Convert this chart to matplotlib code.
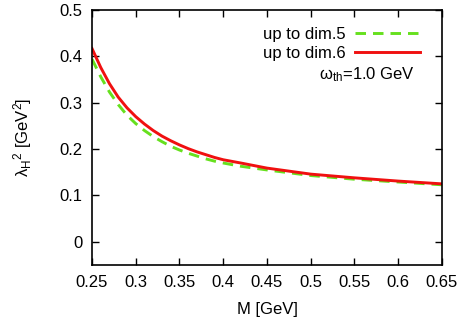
import matplotlib
matplotlib.use('Agg')
import matplotlib.pyplot as plt

plt.rcParams['font.family'] = ['Liberation Sans', 'DejaVu Sans']
plt.rcParams['mathtext.fontset'] = 'custom'
plt.rcParams['mathtext.rm'] = 'Liberation Sans'
plt.rcParams['mathtext.it'] = 'Liberation Sans:italic'

# values
mass = [0.25, 0.26, 0.27, 0.28, 0.29, 0.30, 0.31, 0.32, 0.33, 0.34, 0.35,
        0.36, 0.37, 0.38, 0.39, 0.40, 0.42, 0.45, 0.50, 0.55, 0.60, 0.65]
dim5 = [0.394, 0.356, 0.323, 0.296, 0.273, 0.255, 0.240, 0.227, 0.216, 0.206,
        0.198, 0.191, 0.185, 0.179, 0.174, 0.170, 0.163, 0.155, 0.143, 0.135,
        0.129, 0.123]
dim6 = [0.417, 0.376, 0.341, 0.312, 0.289, 0.270, 0.254, 0.240, 0.228, 0.218,
        0.209, 0.201, 0.194, 0.188, 0.182, 0.177, 0.170, 0.159, 0.146, 0.138,
        0.131, 0.125]
xticks = [0.25, 0.3, 0.35, 0.4, 0.45, 0.5, 0.55, 0.6, 0.65]
xticklabels = ['0.25', '0.3', '0.35', '0.4', '0.45', '0.5', '0.55', '0.6', '0.65']
yticks = [0, 0.1, 0.2, 0.3, 0.4, 0.5]
yticklabels = ['0', '0.1', '0.2', '0.3', '0.4', '0.5']

fig = plt.figure(figsize=(4.63, 3.27), dpi=100)
ax = fig.add_axes([0.1987, 0.1896, 0.7559, 0.7798])

ax.plot(mass, dim5, color='#66e01e', lw=2.1, dashes=(3.6, 2.4), label='up to dim.5')
ax.plot(mass, dim6, color='#f01010', lw=2.1, label='up to dim.6')

ax.set_xlim(0.25, 0.65)
ax.set_ylim(-0.05, 0.5)
ax.set_xticks(xticks)
ax.set_xticklabels(xticklabels)
ax.set_yticks(yticks)
ax.set_yticklabels(yticklabels)
ax.tick_params(direction='in', length=5, width=1, labelsize=12,
               top=True, right=True, pad=7)
for s in ax.spines.values():
    s.set_linewidth(1.2)

ax.set_xlabel('M [GeV]', fontsize=12, labelpad=9)
ax.set_ylabel('λ$_{\\rm H}{}^{2}$ [GeV$^{2}$]', fontsize=12, labelpad=18)

leg = ax.legend(loc='upper right', bbox_to_anchor=(0.936, 0.935), markerfirst=False,
                frameon=False, fontsize=12, handlelength=3.85, handletextpad=0.6,
                labelspacing=0.28, borderaxespad=0, borderpad=0)
ax.text(0.923, 0.745, 'ω$_{\\rm th}$=1.0 GeV', transform=ax.transAxes,
        ha='right', va='center', fontsize=12)

fig.savefig('out.png', dpi=100)
